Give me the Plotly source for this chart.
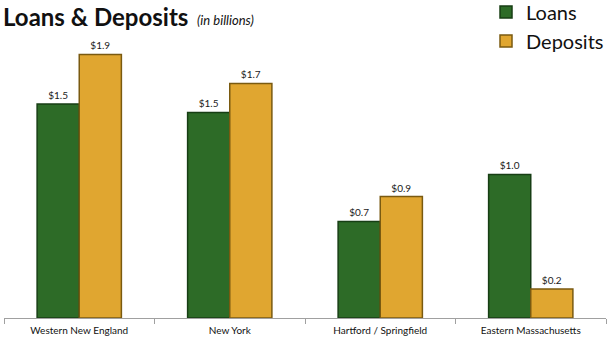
import plotly.graph_objects as go

categories = ["Western New England", "New York", "Hartford / Springfield", "Eastern Massachusetts"]
loans = [1.55, 1.49, 0.70, 1.04]
deposits = [1.91, 1.70, 0.88, 0.21]
loan_labels = ["$1.5", "$1.5", "$0.7", "$1.0"]
deposit_labels = ["$1.9", "$1.7", "$0.9", "$0.2"]

FONT = "Lato"

fig = go.Figure()
fig.add_trace(go.Bar(
    x=categories, y=loans, name="Loans", text=loan_labels,
    textposition="outside", cliponaxis=False,
    textfont=dict(size=10, color="#1a1a1a", family=FONT),
    marker=dict(color="#2D6B27", line=dict(color="#173E14", width=1.5)),
))
fig.add_trace(go.Bar(
    x=categories, y=deposits, name="Deposits", text=deposit_labels,
    textposition="outside", cliponaxis=False,
    textfont=dict(size=10, color="#1a1a1a", family=FONT),
    marker=dict(color="#E0A630", line=dict(color="#7A5A10", width=1.5)),
))

fig.update_layout(
    width=608, height=339,
    margin=dict(l=4, r=2, t=30, b=21, autoexpand=False),
    paper_bgcolor="white", plot_bgcolor="white",
    barmode="group", bargap=0.44, bargroupgap=0,
    showlegend=True,
    legend=dict(
        x=1.005, y=1.13, xanchor="right", yanchor="top",
        font=dict(size=20, family=FONT, color="#111111"),
        bgcolor="rgba(0,0,0,0)", tracegroupgap=6, itemwidth=30,
    ),
    xaxis=dict(
        showline=True, linecolor="#A0A0A0", linewidth=1,
        ticks="outside", tickson="boundaries", ticklen=5, tickcolor="#A0A0A0",
        tickfont=dict(size=10, family=FONT, color="#111111"),
        ticklabelstandoff=3,
        showgrid=False,
    ),
    yaxis=dict(range=[0, 2.087], visible=False, showgrid=False),
)

fig.add_annotation(
    xref="paper", yref="paper", x=-0.005, y=1.105, xanchor="left", yanchor="top",
    text="<b>Loans & Deposits</b>", showarrow=False,
    font=dict(size=24, family=FONT, color="#111111"),
)
fig.add_annotation(
    xref="paper", yref="paper", x=0.318, y=1.07, xanchor="left", yanchor="top",
    text="<i>(in billions)</i>", showarrow=False,
    font=dict(size=13, family=FONT, color="#111111"),
)

fig.write_html("out.html")
